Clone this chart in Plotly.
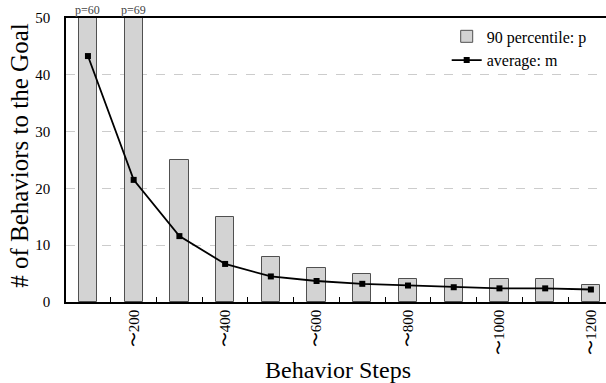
import plotly.graph_objects as go

step_labels = ["〜100", "〜200", "〜300", "〜400", "〜500", "〜600",
               "〜700", "〜800", "〜900", "〜1000", "〜1100", "〜1200"]
p90_values = [60, 69, 25, 15, 8, 6, 5, 4, 4, 4, 4, 3]
avg_values = [43.3, 21.5, 11.6, 6.7, 4.5, 3.7, 3.2, 2.9, 2.6, 2.4, 2.4, 2.2]
y_ticks = [0, 10, 20, 30, 40, 50]
y_max = 50

xs = list(range(len(step_labels)))
serif = "Liberation Serif, serif"

fig = go.Figure()
fig.add_trace(go.Bar(
    x=xs, y=p90_values, width=0.4, name="90 percentile: p",
    marker=dict(color="#d3d3d3", line=dict(color="#505050", width=1)),
))
fig.add_trace(go.Scatter(
    x=xs, y=avg_values, mode="lines+markers", name="average: m",
    line=dict(color="black", width=1.8),
    marker=dict(symbol="square", size=6, color="black"),
))

for x, v in zip(xs, p90_values):
    if v > y_max:
        fig.add_annotation(x=x, y=y_max, yref="y", text=f"p={v}", showarrow=False,
                           yanchor="bottom", yshift=-1,
                           font=dict(family=serif, size=12, color="#444"))

# axis titles as annotations for exact placement
fig.add_annotation(xref="paper", yref="paper", x=0.504, y=-0.239, text="Behavior Steps",
                   showarrow=False, xanchor="center", yanchor="middle",
                   font=dict(family=serif, size=24, color="black"))
fig.add_annotation(xref="paper", yref="paper", x=-0.085, y=0.515, text="# of Behaviors to the Goal",
                   showarrow=False, xanchor="center", yanchor="middle", textangle=-90,
                   font=dict(family=serif, size=25, color="black"))

fig.update_layout(
    width=606, height=383,
    margin=dict(l=66, r=0, t=18, b=81, autoexpand=False),
    plot_bgcolor="white", paper_bgcolor="white",
    font=dict(family=serif, color="black"),
    showlegend=True,
    legend=dict(x=0.705, y=0.995, xanchor="left", yanchor="top",
                font=dict(family=serif, size=16, color="black"), bgcolor="rgba(255,255,255,0)",
                tracegroupgap=0, itemwidth=30),
    bargap=0,
)
fig.update_xaxes(
    range=[-0.48, 11.33], automargin=False,
    tickvals=xs[1::2], ticktext=step_labels[1::2],
    tickangle=-90, tickfont=dict(family=serif, size=15, color="black"),
    ticks="", showgrid=False, zeroline=False,
    showline=True, linecolor="black", linewidth=1.5, mirror=True,
    minor=dict(tick0=0.5, dtick=1, ticks="inside", ticklen=5, tickcolor="black", showgrid=False),
)
fig.update_yaxes(
    range=[0, y_max], tickvals=y_ticks, automargin=False,
    tickfont=dict(family=serif, size=15, color="black"),
    showgrid=True, gridcolor="#cccccc", griddash="dash", gridwidth=1,
    zeroline=False, showline=True, linecolor="black", linewidth=1.5, mirror=True,
    ticks="", ticklabelstandoff=11,
)

fig.write_html("out.html", config={"displayModeBar": False},
               post_script="document.body.style.margin='0';document.body.style.overflow='hidden';")
